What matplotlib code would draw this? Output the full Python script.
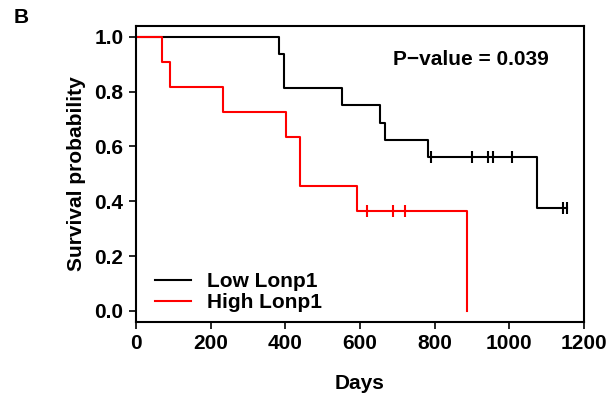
import numpy as np
import matplotlib.pyplot as plt

plt.rcParams['font.family'] = ['Liberation Sans', 'DejaVu Sans']
plt.rcParams['font.weight'] = 'bold'

# Kaplan-Meier steps
low_times = [0, 383, 396, 551, 653, 667, 782, 1073, 1155]
low_surv = [1.0, 0.9375, 0.8125, 0.75, 0.6875, 0.625, 0.5625, 0.375, 0.375]
low_censor = [790, 899, 943, 957, 1007, 1144, 1155]

high_times = [0, 69, 91, 234, 403, 439, 591, 888]
high_surv = [1.0, 0.909, 0.818, 0.727, 0.636, 0.455, 0.364, 0.0]
high_censor = [618, 689, 720]

xticks = [0, 200, 400, 600, 800, 1000, 1200]
yticks = [0.0, 0.2, 0.4, 0.6, 0.8, 1.0]


def surv_at(times, surv, t):
    idx = np.searchsorted(times, t, side='right') - 1
    return np.asarray(surv)[idx]


fig = plt.figure(figsize=(6.16, 3.96), dpi=100)
ax = fig.add_axes([0.2208, 0.1876, 0.7272, 0.7467])

ax.step(low_times, low_surv, where='post', color='black', lw=1.5, label='Low Lonp1')
ax.step(high_times, high_surv, where='post', color='red', lw=1.5, label='High Lonp1')
ax.plot(low_censor, surv_at(low_times, low_surv, low_censor), ls='none',
        marker='|', ms=8, mew=1.5, color='black')
ax.plot(high_censor, surv_at(high_times, high_surv, high_censor), ls='none',
        marker='|', ms=8, mew=1.5, color='red')

ax.set_xlim(0, 1200)
ax.set_ylim(-0.04, 1.04)
ax.set_xticks(xticks)
ax.set_yticks(yticks)
ax.set_yticklabels([f'{v:.1f}' for v in yticks])
ax.tick_params(direction='out', length=5, width=1.2, labelsize=15, pad=4)
for s in ax.spines.values():
    s.set_linewidth(1.5)

ax.set_xlabel('Days', fontsize=15, fontweight='bold', labelpad=15)
ax.set_ylabel('Survival probability', fontsize=15, fontweight='bold', labelpad=6)

ax.text(897, 0.917, 'P\u2212value = 0.039', fontsize=15, fontweight='bold',
        ha='center', va='center')

ax.legend(loc='lower left', bbox_to_anchor=(0.024, 0.003), frameon=False,
          borderaxespad=0, fontsize=15, handlelength=1.7, handletextpad=0.8,
          labelspacing=0.1)

fig.text(0.022, 0.955, 'B', fontsize=15, fontweight='bold', ha='left', va='center')

plt.savefig('out.png', dpi=100)
